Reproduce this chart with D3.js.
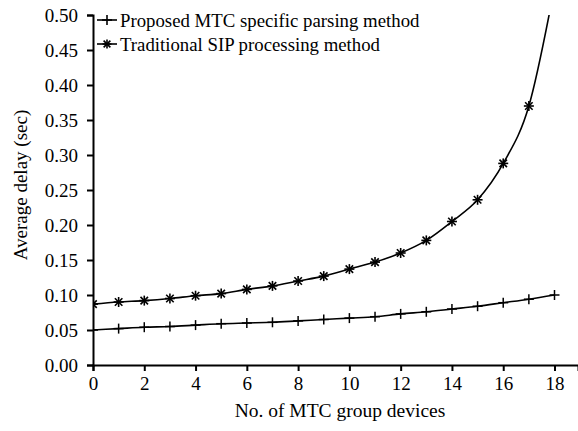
<!DOCTYPE html>
<html><head><meta charset="utf-8">
<script src="https://cdn.jsdelivr.net/npm/d3@7"></script>
<style>
html,body{margin:0;padding:0;background:#fff;}
text{font-family:"Liberation Serif","Times New Roman",Times,serif !important;}
</style></head>
<body><svg id="c" width="578" height="431"></svg>
<script>
const devices = [0,1,2,3,4,5,6,7,8,9,10,11,12,13,14,15,16,17,18];
const proposed = [0.050,0.052,0.054,0.055,0.057,0.059,0.060,0.061,0.063,0.065,0.067,0.069,0.073,0.076,0.080,0.084,0.089,0.094,0.100];
const traditional = [0.087,0.090,0.092,0.095,0.099,0.102,0.108,0.113,0.120,0.127,0.137,0.147,0.160,0.178,0.205,0.236,0.288,0.370,0.540];
const seriesNames = ["Proposed MTC specific parsing method","Traditional SIP processing method"];
const xTicks = [0,2,4,6,8,10,12,14,16,18];
const yTicks = [0,0.05,0.10,0.15,0.20,0.25,0.30,0.35,0.40,0.45,0.50];

const FF = "Liberation Serif, Times New Roman, serif";
const svg = d3.select("#c");
const L = 93, R = 578, T = 15, B = 365;
const xPer = (554.5 - L) / 18;
const x = d3.scaleLinear().domain([0, (R - L) / xPer]).range([L, R]);
const y = d3.scaleLinear().domain([0, 0.5]).range([B, T]);

svg.append("defs").append("clipPath").attr("id","clip")
  .append("rect").attr("x", L).attr("y", T).attr("width", R - L).attr("height", B - T);

const fsTick = 19, fsLab = 19.5, fsLeg = 18.8;
const xa = svg.append("g").attr("transform",`translate(0,${B})`)
  .call(d3.axisBottom(x).tickValues(xTicks).tickFormat(d3.format("d")).tickSizeOuter(0).tickSize(6).tickPadding(6));
const ya = svg.append("g").attr("transform",`translate(${L},0)`)
  .call(d3.axisLeft(y).tickValues(yTicks).tickFormat(d3.format(".2f")).tickSizeOuter(0).tickSize(6).tickPadding(9));
[xa, ya].forEach(a => {
  a.attr("font-family", FF).attr("font-size", fsTick);
  a.select(".domain").attr("stroke","#000").attr("stroke-width",2);
  a.selectAll(".tick line").attr("stroke","#000").attr("stroke-width",2);
  a.selectAll(".tick text").attr("fill","#000");
});

svg.append("text").attr("x", 340).attr("y", 417).attr("text-anchor","middle")
  .attr("font-family", FF).attr("font-size",fsLab).text("No. of MTC group devices");
svg.append("text").attr("transform","translate(27,185) rotate(-90)").attr("text-anchor","middle")
  .attr("font-family", FF).attr("font-size",19).text("Average delay (sec)");

const line = d3.line().x(d => x(d[0])).y(d => y(d[1])).curve(d3.curveMonotoneX);
const plot = svg.append("g").attr("clip-path","url(#clip)");
const sets = [proposed, traditional].map(arr => devices.map((d,i) => [d, arr[i]]));

sets.forEach(pts => {
  plot.append("path").datum(pts).attr("d", line).attr("fill","none")
    .attr("stroke","#000").attr("stroke-width",1.6);
});

function plus(g, cx, cy, s) {
  g.append("line").attr("x1",cx-s).attr("x2",cx+s).attr("y1",cy).attr("y2",cy);
  g.append("line").attr("x1",cx).attr("x2",cx).attr("y1",cy-s).attr("y2",cy+s);
}
function star(g, cx, cy, s) {
  plus(g, cx, cy, s);
  const k = s * 0.75;
  g.append("line").attr("x1",cx-k).attr("x2",cx+k).attr("y1",cy-k).attr("y2",cy+k);
  g.append("line").attr("x1",cx-k).attr("x2",cx+k).attr("y1",cy+k).attr("y2",cy-k);
}
const mk = plot.append("g").attr("stroke","#000").attr("stroke-width",1.5);
sets[0].forEach(p => plus(mk, x(p[0]), y(p[1]), 5));
const mk2 = plot.append("g").attr("stroke","#000").attr("stroke-width",1.6);
sets[1].forEach(p => star(mk2, x(p[0]), y(p[1]), 5));

// legend
const lg = svg.append("g");
const rows = [20, 44];
rows.forEach((ry, i) => {
  const g = lg.append("g").attr("stroke","#000").attr("stroke-width",1.6);
  g.append("line").attr("x1",97).attr("x2",117).attr("y1",ry).attr("y2",ry);
  if (i === 0) plus(g, 107, ry, 5); else star(g, 107, ry, 4.5);
  lg.append("text").attr("x",120).attr("y",ry).attr("dy","0.35em")
    .attr("font-family", FF).attr("font-size",fsLeg).text(seriesNames[i]);
});
</script></body></html>
